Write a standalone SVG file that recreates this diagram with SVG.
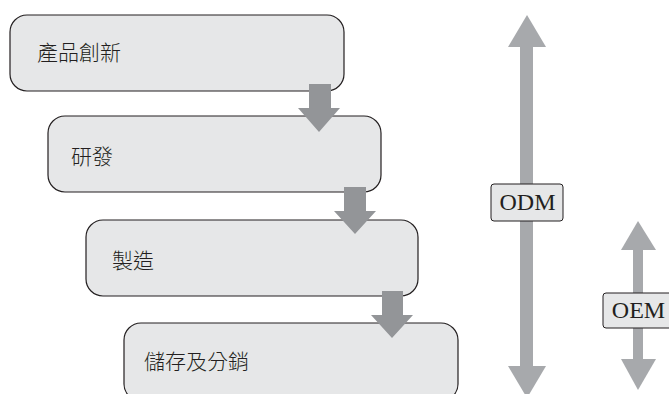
<svg xmlns="http://www.w3.org/2000/svg" width="669" height="394" viewBox="0 0 669 394">
<style>
.box{fill:#e6e7e8;stroke:#231f20;stroke-width:1.2}
.lbl{fill:#e6e7e8;stroke:#231f20;stroke-width:1}
.cjk{font-family:"Noto Sans CJK TC","Noto Sans CJK SC",sans-serif;font-size:21px;font-weight:300;fill:#231f20}
.lat{font-family:"Liberation Serif","Times New Roman",serif;font-size:24px;fill:#231f20;text-anchor:middle}
.flow{fill:#939598}
.range{fill:#a7a9ac}
</style>
<rect width="669" height="394" fill="#ffffff"/>
<g id="node-innovation">
<rect class="box" x="10" y="15" width="334" height="76" rx="17"/>
<text class="cjk" x="37" y="60">產品創新</text>
</g>
<g id="node-rnd">
<rect class="box" x="48" y="116" width="333" height="76" rx="17"/>
<text class="cjk" x="71" y="164">研發</text>
</g>
<g id="node-manufacturing">
<rect class="box" x="86" y="220" width="332" height="76" rx="17"/>
<text class="cjk" x="112" y="268">製造</text>
</g>
<g id="node-distribution">
<rect class="box" x="124" y="323" width="334" height="78" rx="17"/>
<text class="cjk" x="144" y="369">儲存及分銷</text>
</g>
<g id="connectors">
<polygon class="flow" points="309,84 331,84 331,108 340,108 319,132 298,108 309,108"/>
<polygon class="flow" points="344,187 366,187 366,211 376,211 355,234 334,211 344,211"/>
<polygon class="flow" points="382,291 403,291 403,315 413,315 392,338 371,315 382,315"/>
<g id="odm-range">
<rect class="range" x="520" y="46" width="13" height="321"/>
<polygon class="range" points="508,47 527,15 546,47"/>
<polygon class="range" points="508,366 527,398 546,366"/>
</g>
<g id="oem-range">
<rect class="range" x="633" y="249" width="10" height="111"/>
<polygon class="range" points="621,250 638,221 656,250"/>
<polygon class="range" points="621,359 638,390 656,359"/>
</g>
</g>
<g id="label-odm">
<rect class="lbl" x="491" y="184" width="72" height="37" rx="3"/>
<text class="lat" x="527.5" y="210">ODM</text>
</g>
<g id="label-oem">
<rect class="lbl" x="603" y="293" width="70" height="35" rx="3"/>
<text class="lat" x="638.5" y="318">OEM</text>
</g>
</svg>
